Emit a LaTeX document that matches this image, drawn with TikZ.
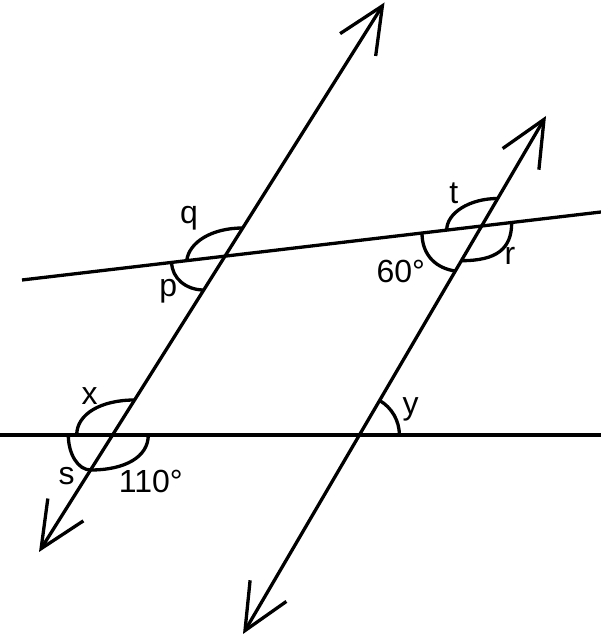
\documentclass[tikz,border=0pt]{standalone}
\usepackage{fontspec}
\setmainfont{Liberation Sans}
\usetikzlibrary{arrows.meta}
\begin{document}
\begin{tikzpicture}[x=1pt,y=1pt,line width=3.3pt,
  barbs/.style={{Straight Barb[length=46pt,width=42pt]}-{Straight Barb[length=46pt,width=42pt]}},
  lbl/.style={inner sep=0pt,anchor=base,font=\fontsize{32}{38}\selectfont}]
\useasboundingbox (0,0) rectangle (601,640);
% lines
\coordinate (A1) at (39,88);
\coordinate (A2) at (384.5,637.5);
\coordinate (B1) at (243,6);
\coordinate (B2) at (546,524);
\coordinate (U1) at (22,360);
\coordinate (U2) at (601,428);
\coordinate (H1) at (0,205);
\coordinate (H2) at (601,205);
\coordinate (Y) at (359.4,205);
\draw[barbs] (A1) -- (A2);
\draw[barbs] (B1) -- (B2);
\draw (U1) -- (U2);
\draw (H1) -- (H2);
% angle marks
\draw (186.7,379.3) .. controls (189,398) and (212,412) .. (242.7,412);
\draw (171.7,377.6) .. controls (171.7,362) and (186,350) .. (203.7,350);
\draw (446.7,409.9) .. controls (446.7,427) and (469.5,441.5) .. (497.7,441.5);
\draw (511.7,417.5) .. controls (511.7,391) and (496.5,379.3) .. (461.4,379.3);
\draw (422,407) .. controls (422,384) and (437,371.5) .. (455.3,369);
\draw (76.7,205) .. controls (76.7,226) and (101,240) .. (134.6,240);
\draw (68.3,205) .. controls (68.3,186) and (78,170) .. (90.6,170);
\draw (90.6,170) .. controls (125,170) and (148.3,183) .. (148.3,205);
\draw (Y) ++(0:40) arc[start angle=0,end angle=59.7,radius=40];
% labels
\node[lbl] (q) at (189,416.7) {q};
\node[lbl] (p) at (168.3,343.3) {p};
\node[lbl] (t) at (453.7,436.7) {t};
\node[lbl] (r) at (510,375) {r};
\node[lbl] (sixty) at (400.8,357.3) {60°};
\node[lbl] (x) at (89.7,235) {x};
\node[lbl] (s) at (66.7,155) {s};
\node[lbl] (onetenth) at (150.8,147.3) {110°};
\node[lbl] (y) at (410.7,225) {y};
\end{tikzpicture}
\end{document}
